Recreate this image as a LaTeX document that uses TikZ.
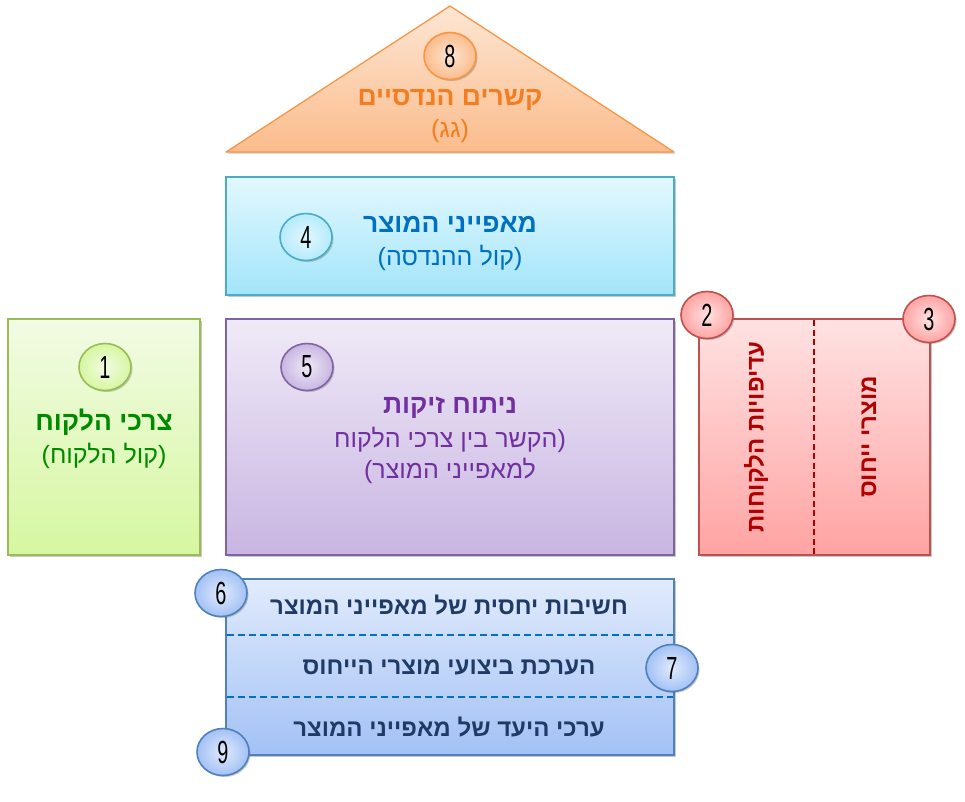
\documentclass[tikz,border=0pt]{standalone}
\usepackage{fontspec}
\setmainfont{Liberation Sans}
\newfontfamily\heb[Script=Hebrew]{Liberation Sans}
\TeXXeTstate=1
\usetikzlibrary{shapes.geometric,shadows}
\definecolor{orB}{HTML}{F79646}
\definecolor{orT}{HTML}{FDE6D3}
\definecolor{orD}{HTML}{FBBC8C}
\definecolor{orTx}{HTML}{F47D20}
\definecolor{cyB}{HTML}{4BACC6}
\definecolor{cyT}{HTML}{E2F8FE}
\definecolor{cyD}{HTML}{A3E5FA}
\definecolor{cyTx}{HTML}{0070C0}
\definecolor{grB}{HTML}{9BBB59}
\definecolor{grT}{HTML}{F2FBE4}
\definecolor{grD}{HTML}{D6F7A0}
\definecolor{grTx}{HTML}{008A00}
\definecolor{puB}{HTML}{8064A2}
\definecolor{puT}{HTML}{F0EAF7}
\definecolor{puD}{HTML}{C8B5E2}
\definecolor{puTx}{HTML}{7030A0}
\definecolor{reB}{HTML}{C0504D}
\definecolor{reT}{HTML}{FFE2E2}
\definecolor{reD}{HTML}{FFA3A3}
\definecolor{reTx}{HTML}{B00000}
\definecolor{blB}{HTML}{4F81BD}
\definecolor{blT}{HTML}{E1EBFC}
\definecolor{blD}{HTML}{A3C1F5}
\definecolor{blTx}{HTML}{1F3A64}
\definecolor{blDash}{HTML}{0070C0}
\tikzset{
  shad/.style={drop shadow={shadow xshift=1.5pt,shadow yshift=-1.5pt,opacity=0.35,fill=black!60}},
  boxx/.style n args={3}{draw=#1,line width=1.3pt,top color=#2,bottom color=#3,shad,inner sep=0pt},
  numc/.style n args={3}{ellipse,draw=#1,line width=1.6pt,inner color=#2,outer color=#3,
     minimum width=52pt,minimum height=47pt,inner sep=0pt,shad,
     font=\fontsize{32}{32}\selectfont},
  ttl/.style={font=\heb\bfseries\fontsize{26.5}{26.5}\selectfont,inner sep=0pt},
  rttl/.style={font=\heb\bfseries\fontsize{24}{24}\selectfont,inner sep=0pt},
  sub/.style={font=\heb\fontsize{25}{25}\selectfont,inner sep=0pt,align=center},
  bot/.style={font=\heb\bfseries\fontsize{24}{24}\selectfont,inner sep=0pt,text=blTx},
}
\newcommand{\nm}[1]{\scalebox{0.62}[1]{#1}}
\begin{document}
\begin{tikzpicture}[x=1pt,y=-1pt]
\useasboundingbox[fill=white] (0,0) rectangle (965,801);
% roof
\coordinate (apex) at (450,6);
\coordinate (bl) at (226,152);
\coordinate (br) at (674,152);
\path[draw=orB,line width=1.3pt,line join=round,top color=orT,bottom color=orD,shad] (apex) -- (br) -- (bl) -- cycle;
% boxes
\node[boxx={cyB}{cyT}{cyD},minimum width=448pt,minimum height=118pt] (eng) at (450,236) {};
\node[boxx={grB}{grT}{grD},minimum width=192pt,minimum height=236pt] (cust) at (104,437) {};
\node[boxx={puB}{puT}{puD},minimum width=448pt,minimum height=236pt] (rel) at (450,437) {};
\node[boxx={reB}{reT}{reD},minimum width=231pt,minimum height=236pt] (comp) at (814.5,437) {};
\node[boxx={blB}{blT}{blD},minimum width=448pt,minimum height=176pt] (tgt) at (450,667) {};
% dashed separators
\coordinate (rt) at (814,320);
\coordinate (rb) at (814,554);
\draw[reTx,line width=1.3pt,dash pattern=on 6pt off 3.5pt] (rt) -- (rb);
\coordinate (d1l) at (227,635);
\coordinate (d1r) at (673,635);
\coordinate (d2l) at (227,697);
\coordinate (d2r) at (673,697);
\draw[blDash,line width=1.3pt,dash pattern=on 7pt off 4pt] (d1l) -- (d1r);
\draw[blDash,line width=1.3pt,dash pattern=on 7pt off 4pt] (d2l) -- (d2r);
% texts
\node[ttl,text=orTx] (t8) at (450,100) {\beginR קשרים הנדסיים\endR};
\node[sub,text=orTx] (s8) at (450,131) {\beginR (גג)\endR};
\node[ttl,text=cyTx] (t4) at (450,224) {\beginR מאפייני המוצר\endR};
\node[sub,text=cyTx] (s4) at (450,258) {\beginR (קול ההנדסה)\endR};
\node[ttl,text=grTx] (t1) at (104,422) {\beginR צרכי הלקוח\endR};
\node[sub,text=grTx] (s1) at (104,456) {\beginR (קול הלקוח)\endR};
\node[ttl,text=puTx] (t5) at (450,408) {\beginR ניתוח זיקות\endR};
\node[sub,text=puTx] (s5a) at (450,440) {\beginR (הקשר בין צרכי הלקוח\endR};
\node[sub,text=puTx] (s5b) at (450,471) {\beginR למאפייני המוצר)\endR};
\node[rttl,text=reTx,rotate=90] (t2) at (756,437) {\beginR עדיפויות הלקוחות\endR};
\node[rttl,text=reTx,rotate=90] (t3) at (869,437) {\beginR מוצרי ייחוס\endR};
\node[bot] (b6) at (449,605) {\beginR חשיבות יחסית של מאפייני המוצר\endR};
\node[bot] (b7) at (449,667) {\beginR הערכת ביצועי מוצרי הייחוס\endR};
\node[bot] (b9) at (449,727) {\beginR ערכי היעד של מאפייני המוצר\endR};
% numbered circles
\node[numc={orB}{orT}{orD}] (n8) at (450,56) {\nm{8}};
\node[numc={cyB}{cyT}{cyD!80}] (n4) at (306,237) {\nm{4}};
\node[numc={grB}{grT}{grD}] (n1) at (105,367) {\nm{1}};
\node[numc={puB}{puT}{puD}] (n5) at (307,367) {\nm{5}};
\node[numc={reB}{reT}{reD}] (n2) at (707,315) {\nm{2}};
\node[numc={reB}{reT}{reD}] (n3) at (929,319) {\nm{3}};
\node[numc={blB}{blT}{blD}] (n6) at (221,593) {\nm{6}};
\node[numc={blB}{blT}{blD}] (n7) at (672,668) {\nm{7}};
\node[numc={blB}{blT}{blD}] (n9) at (223,752) {\nm{9}};
\end{tikzpicture}
\end{document}
